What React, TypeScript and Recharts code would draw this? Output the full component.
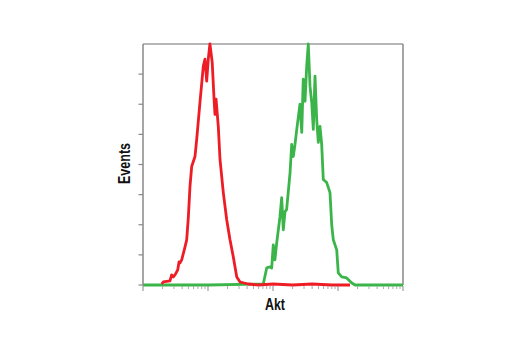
import React from 'react';
import { LineChart, Line, XAxis, YAxis, ReferenceLine } from 'recharts';

// Red histogram (isotype control): fluorescence intensity vs event count
const redIntensity = [1.94, 2.05, 2.6, 2.76, 2.93, 3.11, 3.42, 3.58, 3.71, 3.94, 4.43, 4.7, 4.98, 5.28, 5.61, 6.31, 6.7, 7.53, 8.47, 8.99, 9.55, 10.1, 10.7, 11.6, 12.4, 12.8, 13.3, 14.4, 15.3, 17.2, 19.4, 21.8, 24.5, 27.7, 31.1, 41.7, 60, 100, 200, 400, 800, 1530];
const redEvents = [1, 3, 4, 10, 8, 10, 15, 23, 22, 25, 38, 45, 67, 98, 118, 128, 145, 182, 218, 225, 203, 225, 240, 222, 185, 170, 185, 158, 125, 92, 65, 45, 28, 8, 3, 1, 0, 1, 0, 1, 0, 0];

// Green histogram (Akt stained)
const greenIntensity = [1, 10, 70.9, 80, 89.9, 95.5, 101, 107, 114, 128, 136, 144, 153, 162, 183, 194, 205, 218, 232, 245, 260, 277, 292, 311, 330, 349, 371, 394, 417, 443, 470, 498, 528, 561, 594, 670, 753, 800, 847, 955, 1010, 1140, 1360, 1630, 1830, 10000];
const greenEvents = [0, 0, 1, 17, 18, 17, 40, 25, 42, 68, 87, 55, 73, 75, 112, 140, 128, 140, 155, 167, 180, 152, 205, 183, 218, 240, 198, 182, 155, 208, 165, 142, 158, 140, 105, 102, 92, 60, 45, 35, 12, 8, 7, 2, 0, 0];

const majorTicks = [1, 10, 100, 1000, 10000];
const minorMultipliers = [2, 3, 4, 5, 6, 7, 8, 9];
const xTicks: number[] = [];
majorTicks.forEach((d, i) => {
  xTicks.push(d);
  if (i < majorTicks.length - 1) minorMultipliers.forEach((m) => xTicks.push(d * m));
});
const yTicks = [0, 30, 60, 90, 120, 150, 180, 210];

const redData = redIntensity.map((x, i) => ({ x, count: redEvents[i] }));
const greenData = greenIntensity.map((x, i) => ({ x, count: greenEvents[i] }));

const FONT = "'Liberation Sans', Arial, sans-serif";

const XTick = (props: any) => {
  const { x, y, payload } = props;
  const major = majorTicks.includes(payload.value);
  return (
    <line
      x1={x}
      x2={x}
      y1={y + 1}
      y2={y + (major ? 6 : 4)}
      stroke={major ? '#888' : '#aaa'}
      strokeWidth={1}
    />
  );
};

const YTick = (props: any) => {
  const { x, y } = props;
  return <line x1={x - 4.5} x2={x} y1={y} y2={y} stroke="#888" strokeWidth={1.2} />;
};

const YLabel = (props: any) => {
  const vb = props.viewBox || {};
  const cx = 123.5;
  const cy = (vb.y ?? 44) + (vb.height ?? 241) / 2 - 1;
  return (
    <text
      x={cx}
      y={cy}
      transform={`rotate(-90, ${cx}, ${cy})`}
      textAnchor="middle"
      dominantBaseline="central"
      fontFamily={FONT}
      fontWeight="bold"
      fontSize={16.5}
      textLength={41}
      lengthAdjust="spacingAndGlyphs"
      fill="#111"
    >
      Events
    </text>
  );
};

const XLabel = (props: any) => {
  const vb = props.viewBox || {};
  const cx = (vb.x ?? 143) + (vb.width ?? 260) / 2 + 2;
  return (
    <text
      x={cx}
      y={310}
      textAnchor="middle"
      fontFamily={FONT}
      fontWeight="bold"
      fontSize={16.5}
      textLength={20}
      lengthAdjust="spacingAndGlyphs"
      fill="#111"
    >
      Akt
    </text>
  );
};

export default function App() {
  return (
    <div style={{ position: 'absolute', left: 0, top: 0, width: 520, height: 350, background: '#fff' }}>
      <LineChart width={520} height={350} margin={{ top: 44, right: 117, bottom: 35, left: 103 }}>
        <XAxis
          dataKey="x"
          type="number"
          scale="log"
          domain={[1, 10000]}
          ticks={xTicks}
          interval={0}
          tickSize={0}
          tickMargin={0}
          tickLine={false}
          tick={<XTick />}
          axisLine={false}
          height={30}
          label={<XLabel />}
        />
        <YAxis
          type="number"
          domain={[0, 240]}
          ticks={yTicks}
          interval={0}
          tickSize={0}
          tickMargin={0}
          tickLine={false}
          tick={<YTick />}
          axisLine={{ stroke: '#888', strokeWidth: 1.5 }}
          width={40}
          label={<YLabel />}
        />
        <ReferenceLine y={240} stroke="#b5b5b5" strokeWidth={2} />
        <ReferenceLine x={10000} stroke="#888" strokeWidth={1.5} />
        <Line
          data={greenData}
          dataKey="count"
          type="linear"
          stroke="#3bb54a"
          strokeWidth={2.8}
          dot={false}
          strokeLinejoin="round"
          isAnimationActive={false}
        />
        <Line
          data={redData}
          dataKey="count"
          type="linear"
          stroke="#ee1c25"
          strokeWidth={2.8}
          dot={false}
          strokeLinejoin="round"
          isAnimationActive={false}
        />
      </LineChart>
    </div>
  );
}
